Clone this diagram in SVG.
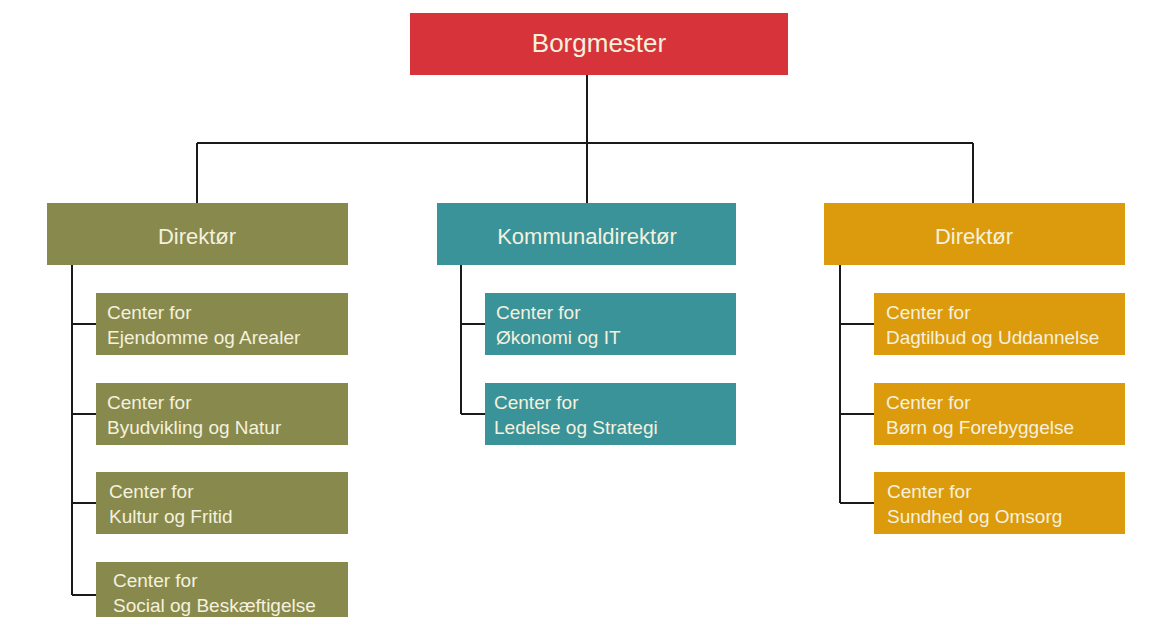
<svg xmlns="http://www.w3.org/2000/svg" width="1150" height="617" viewBox="0 0 1150 617">
<style>
.t{font-family:"Liberation Sans",Arial,sans-serif;fill:#f5f1de}
.h{font-size:22px;text-anchor:middle}
.c{font-size:19px}
.red{fill:#d6343a}
.olive{fill:#878a4c}
.teal{fill:#3a9399}
.orange{fill:#dc9b0d}
.ln{fill:none;stroke:#1a1a1a;stroke-width:2}
</style>
<rect width="1150" height="617" fill="#ffffff"/>
<g id="connectors" class="ln">
<path d="M587 75V143M197 143H973M197 143V203M587 143V203M973 143V203"/>
<path d="M72 265V595M72 324H96M72 414H96M72 503H96M72 595H96"/>
<path d="M461 265V414M461 324H485M461 414H485"/>
<path d="M840 265V503M840 324H874M840 414H874M840 503H874"/>
</g>
<g id="borgmester"><rect class="red" x="410" y="13" width="378" height="62"/><text class="t" x="599" y="52" font-size="26" text-anchor="middle">Borgmester</text></g>
<g id="dir-left"><rect class="olive" x="47" y="203" width="301" height="62"/><text class="t h" x="197" y="244">Direktør</text></g>
<g id="c-ejendomme"><rect class="olive" x="96" y="293" width="252" height="62"/><text class="t c" x="107" y="319">Center for</text><text class="t c" x="107" y="344">Ejendomme og Arealer</text></g>
<g id="c-byudvikling"><rect class="olive" x="96" y="383" width="252" height="62"/><text class="t c" x="107" y="409">Center for</text><text class="t c" x="107" y="434">Byudvikling og Natur</text></g>
<g id="c-kultur"><rect class="olive" x="96" y="472" width="252" height="62"/><text class="t c" x="109" y="498">Center for</text><text class="t c" x="109" y="523">Kultur og Fritid</text></g>
<g id="c-social"><rect class="olive" x="96" y="562" width="252" height="62"/><text class="t c" x="113" y="587">Center for</text><text class="t c" x="113" y="612">Social og Beskæftigelse</text></g>
<g id="dir-mid"><rect class="teal" x="437" y="203" width="299" height="62"/><text class="t h" x="587" y="244">Kommunaldirektør</text></g>
<g id="c-okonomi"><rect class="teal" x="485" y="293" width="251" height="62"/><text class="t c" x="496" y="319">Center for</text><text class="t c" x="496" y="344">Økonomi og IT</text></g>
<g id="c-ledelse"><rect class="teal" x="485" y="383" width="251" height="62"/><text class="t c" x="494" y="409">Center for</text><text class="t c" x="494" y="434">Ledelse og Strategi</text></g>
<g id="dir-right"><rect class="orange" x="824" y="203" width="301" height="62"/><text class="t h" x="974" y="244">Direktør</text></g>
<g id="c-dagtilbud"><rect class="orange" x="874" y="293" width="251" height="62"/><text class="t c" x="886" y="319">Center for</text><text class="t c" x="886" y="344">Dagtilbud og Uddannelse</text></g>
<g id="c-born"><rect class="orange" x="874" y="383" width="251" height="62"/><text class="t c" x="886" y="409">Center for</text><text class="t c" x="886" y="434">Børn og Forebyggelse</text></g>
<g id="c-sundhed"><rect class="orange" x="874" y="472" width="251" height="62"/><text class="t c" x="887" y="498">Center for</text><text class="t c" x="887" y="523">Sundhed og Omsorg</text></g>
</svg>
